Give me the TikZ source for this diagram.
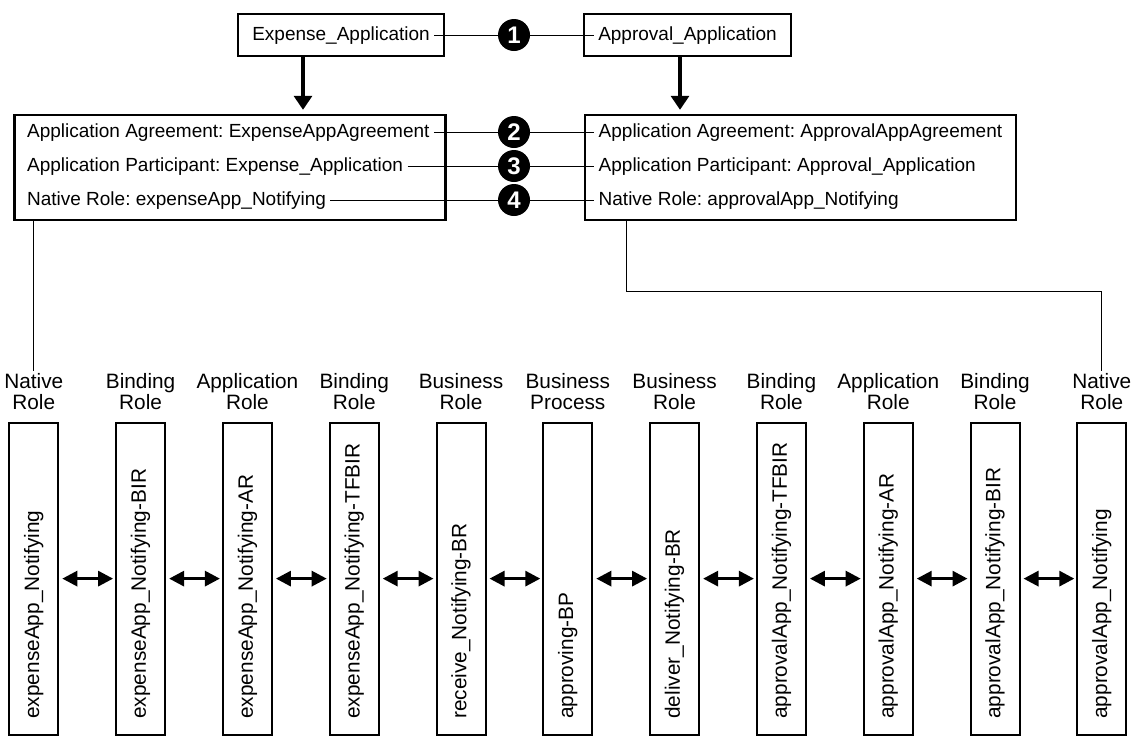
\documentclass[tikz,border=0pt]{standalone}
\usepackage{fontspec}
\setmainfont{Liberation Sans}
\frenchspacing
\usetikzlibrary{arrows.meta,positioning}
\tikzset{
  appbox/.style={draw, line width=1.2pt, minimum width=103pt, minimum height=21pt},
  roster/.style={draw, line width=1.2pt, minimum width=215.5pt, minimum height=52.5pt},
  txt/.style={font=\fontsize{9.5}{11}\selectfont, inner sep=2pt, text height=7pt, text depth=2pt},
  num/.style={circle, fill=black, text=white, minimum size=16pt, inner sep=0pt, font=\fontsize{12}{14}\selectfont\bfseries},
  wire/.style={line width=0.5pt},
  down/.style={-{Triangle[length=7pt, width=9pt]}, line width=1.6pt, shorten >=2pt},
  col/.style={draw, line width=1pt, minimum width=24.5pt, minimum height=155.9pt, inner sep=0pt},
  coltext/.style={rotate=90, anchor=west, inner sep=0pt, font=\fontsize{10.4}{12}\selectfont},
  lab/.style={align=center, inner sep=1pt, font=\fontsize{10.4}{10.5}\selectfont},
  pair/.style={{Triangle[length=7.5pt, width=7.5pt]}-{Triangle[length=7.5pt, width=7.5pt]}, line width=1.5pt, shorten <=1.5pt, shorten >=1pt},
}

\begin{document}
\begin{tikzpicture}[x=0.5pt, y=-0.5pt, node distance=5pt and 27.9pt]
    \useasboundingbox (0,0) rectangle (1133,736);

    % applications
    \node[txt] (expt) at (341,35) {Expense\_Application};
    \node[appbox] (expbox) at (expt) {};
    \node[txt] (apprt) at (687.5,35) {Approval\_Application};
    \node[appbox, minimum width=103.5pt] (apprbox) at (apprt) {};
    \node[num] (n1) at (514,35) {1};

    % agreements
    \node[roster] (expmid) at (230,167.5) {};
    \node[roster] (apprmid) at (800.5,167.5) {};
    \node[txt, anchor=west] (exag) at (22.7,132) {Application Agreement: ExpenseAppAgreement};
    \node[txt, anchor=west] (expa) at (22.7,166) {Application Participant: Expense\_Application};
    \node[txt, anchor=west] (exnr) at (22.7,200) {Native Role: expenseApp\_Notifying};
    \node[txt, anchor=west] (apag) at (594.3,132) {Application Agreement: ApprovalAppAgreement};
    \node[txt, anchor=west] (appa) at (594.3,166) {Application Participant: Approval\_Application};
    \node[txt, anchor=west] (apnr) at (594.3,200) {Native Role: approvalApp\_Notifying};
    \node[num] (n2) at (n1 |- exag) {2};
    \node[num] (n3) at (n1 |- expa) {3};
    \node[num] (n4) at (n1 |- exnr) {4};

    % role chain
    \node[col] (natexp) at (33.8,578.6) {};
    \node[col, right=of natexp] (birexp) {};
    \node[col, right=of birexp] (arexp) {};
    \node[col, right=of arexp] (tfbirexp) {};
    \node[col, right=of tfbirexp] (brrecv) {};
    \node[col, right=of brrecv] (bpappr) {};
    \node[col, right=of bpappr] (brdeliv) {};
    \node[col, right=of brdeliv] (tfbirappr) {};
    \node[col, right=of tfbirappr] (arappr) {};
    \node[col, right=of arappr] (birappr) {};
    \node[col, right=of birappr] (natappr) {};

    \node[coltext] (tnatexp) at ([yshift=8.25pt]natexp.south) {expenseApp\_Notifying};
    \node[coltext] (tbirexp) at ([yshift=8.25pt]birexp.south) {expenseApp\_Notifying-BIR};
    \node[coltext] (tarexp) at ([yshift=8.25pt]arexp.south) {expenseApp\_Notifying-AR};
    \node[coltext] (ttfbirexp) at ([yshift=8.25pt]tfbirexp.south) {expenseApp\_Notifying-TFBIR};
    \node[coltext] (tbrrecv) at ([yshift=8.25pt]brrecv.south) {receive\_Notifying-BR};
    \node[coltext] (tbpappr) at ([yshift=8.25pt]bpappr.south) {approving-BP};
    \node[coltext] (tbrdeliv) at ([yshift=8.25pt]brdeliv.south) {deliver\_Notifying-BR};
    \node[coltext] (ttfbirappr) at ([yshift=8.25pt]tfbirappr.south) {approvalApp\_Notifying-TFBIR};
    \node[coltext] (tarappr) at ([yshift=8.25pt]arappr.south) {approvalApp\_Notifying-AR};
    \node[coltext] (tbirappr) at ([yshift=8.25pt]birappr.south) {approvalApp\_Notifying-BIR};
    \node[coltext] (tnatappr) at ([yshift=8.25pt]natappr.south) {approvalApp\_Notifying};

    \node[lab, above=of natexp] (lnatexp) {Native\\Role};
    \node[lab, above=of birexp] (lbirexp) {Binding\\Role};
    \node[lab, above=of arexp] (larexp) {Application\\Role};
    \node[lab, above=of tfbirexp] (ltfbirexp) {Binding\\Role};
    \node[lab, above=of brrecv] (lbrrecv) {Business\\Role};
    \node[lab, above=of bpappr] (lbpappr) {Business\\Process};
    \node[lab, above=of brdeliv] (lbrdeliv) {Business\\Role};
    \node[lab, above=of tfbirappr] (ltfbirappr) {Binding\\Role};
    \node[lab, above=of arappr] (larappr) {Application\\Role};
    \node[lab, above=of birappr] (lbirappr) {Binding\\Role};
    \node[lab, above=of natappr] (lnatappr) {Native\\Role};

    \draw[wire] (expt.east) -- (n1) -- (apprt.west);
    \draw[wire] (exag.east) -- (n2) -- (apag.west);
    \draw[wire] (expa.east) -- (n3) -- (appa.west);
    \draw[wire] (exnr.east) -- (n4) -- (apnr.west);
    \draw[down] ([xshift=-19pt]expbox.south) -- ([xshift=-19pt]expbox.south |- expmid.north);
    \draw[down] ([xshift=-3.75pt]apprbox.south) -- ([xshift=-3.75pt]apprbox.south |- apprmid.north);
    \draw[wire] (expmid.south -| lnatexp.north) -- (lnatexp.north);
    \draw[wire] ([xshift=21.5pt]apprmid.south west) -- ++(0,-35pt) -| (lnatappr.north);

    \draw[pair] (natexp) -- (birexp);
    \draw[pair] (birexp) -- (arexp);
    \draw[pair] (arexp) -- (tfbirexp);
    \draw[pair] (tfbirexp) -- (brrecv);
    \draw[pair] (brrecv) -- (bpappr);
    \draw[pair] (bpappr) -- (brdeliv);
    \draw[pair] (brdeliv) -- (tfbirappr);
    \draw[pair] (tfbirappr) -- (arappr);
    \draw[pair] (arappr) -- (birappr);
    \draw[pair] (birappr) -- (natappr);
  \end{tikzpicture}
\end{document}
